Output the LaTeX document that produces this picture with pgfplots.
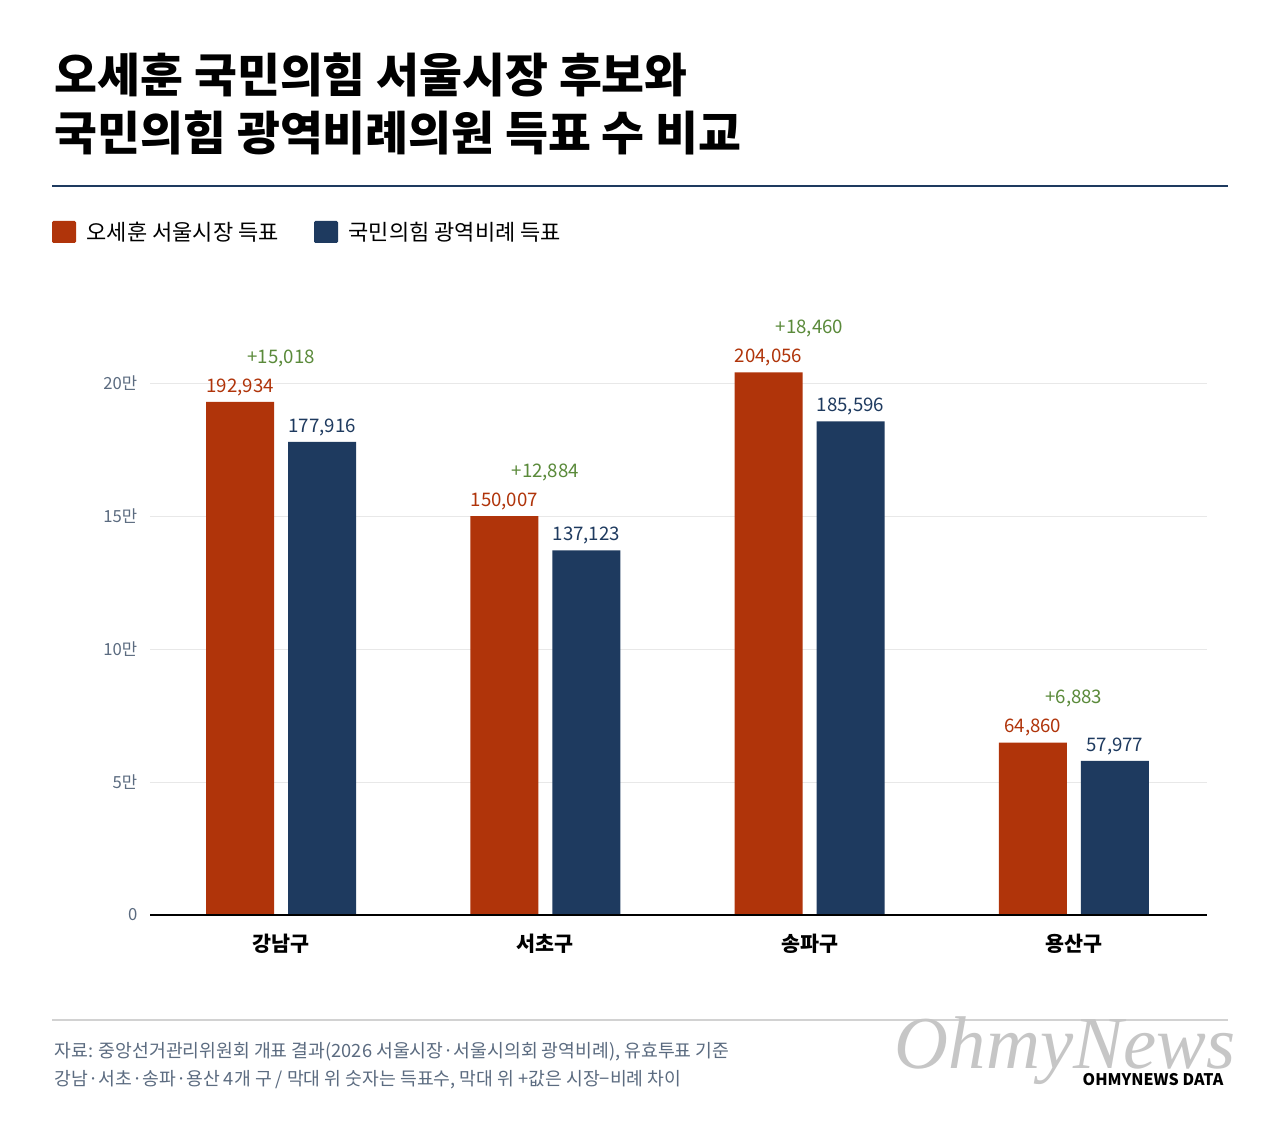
\documentclass[border=0pt]{standalone}
\usepackage{pgfplots}
\pgfplotsset{compat=1.18}
\usepackage{fontspec}
\setmainfont{Noto Sans CJK KR}
\newfontfamily\serifw{Liberation Serif}
\definecolor{cred}{HTML}{B0340A}
\definecolor{cnavy}{HTML}{1E3A5F}
\definecolor{cgreen}{HTML}{5A8A3A}
\definecolor{ctick}{HTML}{5B6B80}
\begin{document}
\begin{tikzpicture}[x=0.75pt,y=0.75pt]
\fill[white] (0,0) rectangle (1280,1133);
\node[anchor=west,font=\fontsize{35}{40}\selectfont\bfseries] at (50,1058) {오세훈 국민의힘 서울시장 후보와};
\node[anchor=west,font=\fontsize{35}{40}\selectfont\bfseries] at (50,1000) {국민의힘 광역비례의원 득표 수 비교};
\draw[cnavy,line width=1.5pt] (52,947) -- (1228,947);
\fill[cred,rounded corners=1pt] (52,890) rectangle (76,912);
\node[anchor=west,font=\fontsize{16.5}{18}\selectfont] at (82,901) {오세훈 서울시장 득표};
\fill[cnavy,rounded corners=1pt] (314,890) rectangle (338,912);
\node[anchor=west,font=\fontsize{16.5}{18}\selectfont] at (344,901) {국민의힘 광역비례 득표};
\draw[gray!35,line width=0.8pt] (52,113) -- (1228,113);
\node[anchor=west,text=ctick,font=\fontsize{13.7}{16}\selectfont] at (50,81) {자료: 중앙선거관리위원회 개표 결과(2026 서울시장·서울시의회 광역비례), 유효투표 기준};
\node[anchor=west,text=ctick,font=\fontsize{13.7}{16}\selectfont] at (50,53) {강남·서초·송파·용산 4개 구 / 막대 위 숫자는 득표수, 막대 위 +값은 시장−비례 차이};
\node[text=gray!45,font=\serifw\itshape\fontsize{56}{56}\selectfont] at (1065,82) {OhmyNews};
\node[anchor=east,font=\fontsize{12}{14}\selectfont\bfseries] at (1228,53) {OHMYNEWS DATA};
\begin{axis}[at={(112.5pt,163.5pt)},anchor=south west,scale only axis,
 width=792.75pt,height=438.75pt,
 xmin=-0.496,xmax=3.504,ymin=0,ymax=220000,
 axis line style={draw=none},
 scaled y ticks=false,
 /pgf/number format/assume math mode=true,
 ybar,bar width=51pt,
 ymajorgrids,grid style={gray!18,line width=0.6pt},
 ytick={0,50000,100000,150000,200000},
 yticklabels={0,5만,10만,15만,20만},
 yticklabel style={text=ctick,font=\fontsize{12.5}{14}\selectfont,xshift=-6pt},
 xtick={0,1,2,3},xticklabels={강남구,서초구,송파구,용산구},
 xticklabel style={font=\fontsize{15.5}{17}\selectfont\bfseries,yshift=-11pt},
 major tick length=0pt,tick style={draw=none},
 clip=false,
 nodes near coords,
 nodes near coords style={font=\fontsize{14}{16}\selectfont,/pgf/number format/fixed,/pgf/number format/precision=0,/pgf/number format/1000 sep={,},anchor=south,yshift=1pt},
]
\addplot[fill=cred,draw=none,bar shift=-30.75pt,nodes near coords style={text=cred}] coordinates {(0,192934)(1,150007)(2,204056)(3,64860)};
\addplot[fill=cnavy,draw=none,bar shift=30.75pt,nodes near coords style={text=cnavy}] coordinates {(0,177916)(1,137123)(2,185596)(3,57977)};
\addplot[draw=none,fill=none,bar shift=0pt,bar width=0.001pt,point meta=explicit symbolic,
 nodes near coords style={text=cgreen,yshift=22pt}] coordinates {(0,192934)[+15,018] (1,150007)[+12,884] (2,204056)[+18,460] (3,64860)[+6,883]};
\draw[black,line width=0.8pt] (axis cs:-0.496,0) -- (axis cs:3.504,0);
\end{axis}
\end{tikzpicture}
\end{document}
